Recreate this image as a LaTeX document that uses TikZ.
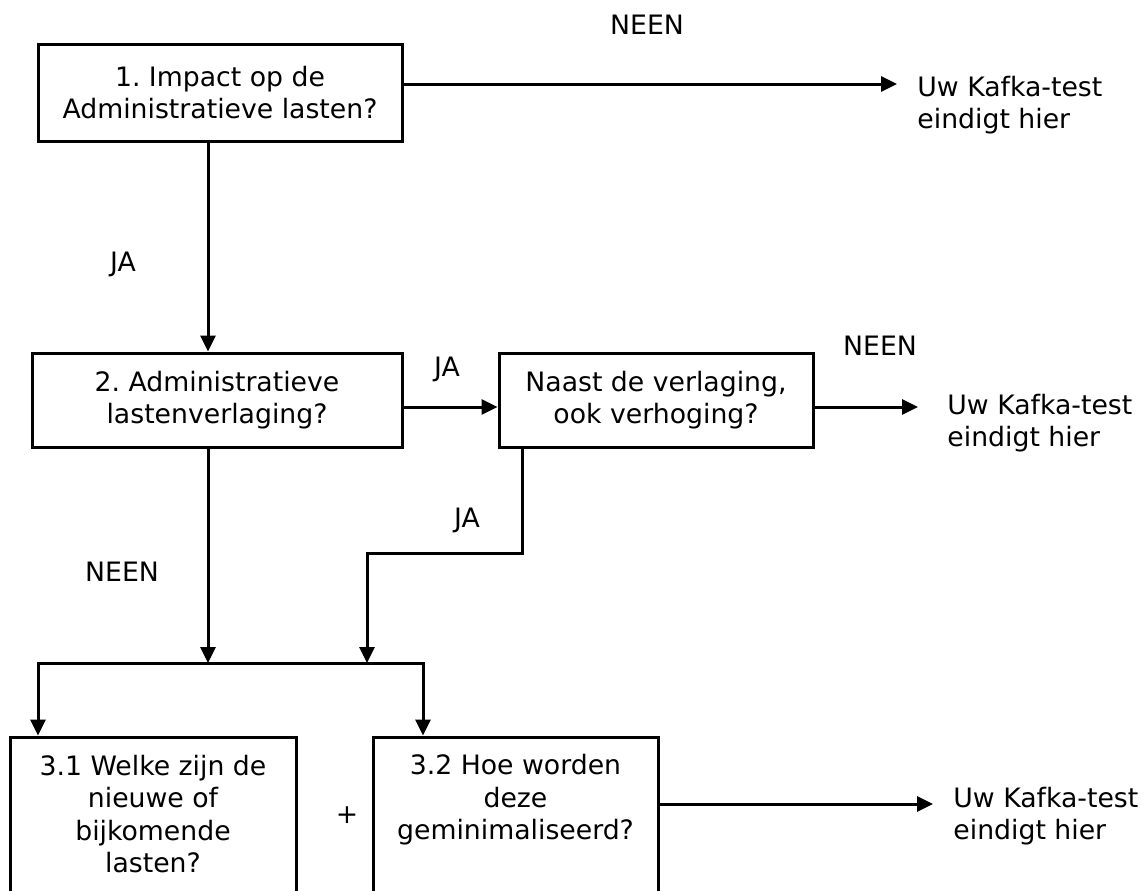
\documentclass[tikz,border=0pt]{standalone}
\usepackage{fontspec}
\setmainfont{DejaVu Sans}
\frenchspacing
\usetikzlibrary{arrows.meta}
\tikzset{
  txt/.style={font=\fontsize{13.35pt}{16.25pt}\selectfont, inner sep=0pt, align=center},
  box/.style={draw, line width=1.5pt, rectangle, inner sep=0pt, txt},
  conn/.style={line width=1.5pt},
  arr/.style={conn, -{Triangle[length=8pt,width=7.5pt]}},
  arrboth/.style={conn, {Triangle[length=8pt,width=7.5pt]}-{Triangle[length=8pt,width=7.5pt]}},
  lbl/.style={txt},
  endtxt/.style={txt, align=left, anchor=west},
}
\begin{document}
\begin{tikzpicture}[x=0.5pt,y=-0.5pt]
\useasboundingbox[fill=white] (0,0) rectangle (1147,890);
\clip (0,0) rectangle (1147,890);

% boxes
\node[box, minimum width=182pt, minimum height=48.5pt] (b1) at (220,92.5) {1. Impact op de\\Administratieve lasten?};
\node[box, minimum width=185pt, minimum height=47pt] (b2) at (217,400) {2. Administratieve\\lastenverlaging?};
\node[box, minimum width=157pt, minimum height=47pt] (n) at (656,400) {Naast de verlaging,\\ook verhoging?};
\node[box, minimum width=143pt, minimum height=101.5pt] (b31) at (153,838.5) {};
\node[box, minimum width=142.5pt, minimum height=101.5pt] (b32) at (515.5,838.5) {};
\node[txt] (t31) at (153,814) {3.1 Welke zijn de\\nieuwe of\\bijkomende\\lasten?};
\node[txt] (t32) at (515.5,800) {3.2 Hoe worden\\deze\\geminimaliseerd?};
\node[lbl] (plus) at (347,815) {+};

% end texts
\node[endtxt] (end1) at (917,105) {Uw Kafka-test\\eindigt hier};
\node[endtxt] (end2) at (947,423) {Uw Kafka-test\\eindigt hier};
\node[endtxt] (end3) at (953,816) {Uw Kafka-test\\eindigt hier};

% labels
\node[lbl] (l1) at (647,25) {NEEN};
\node[lbl] (l2) at (123,264) {JA};
\node[lbl] (l3) at (447,369) {JA};
\node[lbl] (l4) at (880,346) {NEEN};
\node[lbl] (l5) at (467,520) {JA};
\node[lbl] (l6) at (122,572) {NEEN};

% coordinates
\coordinate (e1) at (897,84);
\coordinate (e2) at (918,407);
\coordinate (e3) at (933,804);
\coordinate (v1) at (208,0);
\coordinate (h2) at (0,407);
\coordinate (j1) at (522,553);
\coordinate (j2) at (367,553);
\coordinate (m1) at (208,663);
\coordinate (m2) at (367,663);
\coordinate (sl) at (38,663);
\coordinate (sr) at (423,663);

% connectors
\draw[arr] (b1.east |- e1) -- (e1);
\draw[arr] (b1.south -| v1) -- (b2.north -| v1);
\draw[arr] (b2.east |- h2) -- (n.west |- h2);
\draw[arr] (n.east |- e2) -- (e2);
\draw[arr] (n.south -| j1) -- (j1) -- (j2) -- (m2);
\draw[arr] (b2.south -| v1) -- (m1);
\draw[arrboth] (b31.north -| sl) -- (sl) -- (sr) -- (b32.north -| sr);
\draw[arr] (b32.east |- e3) -- (e3);
\end{tikzpicture}
\end{document}
